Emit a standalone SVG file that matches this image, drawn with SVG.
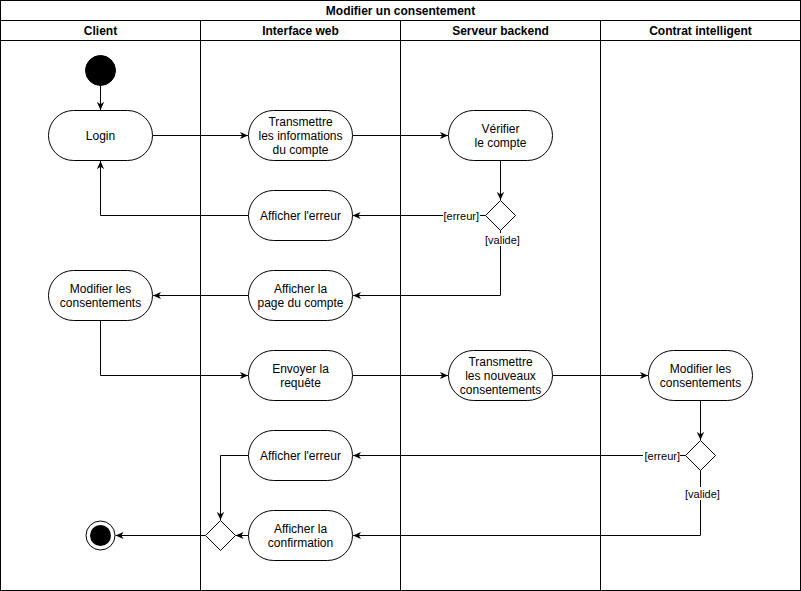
<svg xmlns="http://www.w3.org/2000/svg" width="801" height="591" viewBox="0 0 801 591">
  <style>
    .frame { fill: #ffffff; stroke: #000000; stroke-width: 1; }
    .act { fill: #ffffff; stroke: #000000; stroke-width: 1; }
    .dec { fill: #ffffff; stroke: #000000; stroke-width: 1; }
    .txt { font-family: "Liberation Sans", Arial, sans-serif; font-size: 12px; fill: #000000; text-anchor: middle; }
    .hdr { font-family: "Liberation Sans", Arial, sans-serif; font-size: 12px; font-weight: bold; fill: #000000; text-anchor: middle; }
    .lbl { font-family: "Liberation Sans", Arial, sans-serif; font-size: 11px; fill: #000000; }
    .edge { fill: none; stroke: #000000; stroke-width: 1; marker-end: url(#arrow); }
  </style>
  <defs>
    <marker id="arrow" viewBox="0 0 10 10" refX="9" refY="5" markerWidth="9" markerHeight="9" markerUnits="userSpaceOnUse" orient="auto">
      <path d="M0,1 L9,5 L0,9 L2.5,5 Z" fill="#000000" stroke="none"/>
    </marker>
  </defs>

  <!-- Pool and swimlanes -->
  <g id="pool">
    <rect class="frame" x="0.5" y="0.5" width="800" height="590"/>
    <line x1="0.5" y1="20.5" x2="800.5" y2="20.5" stroke="#000"/>
    <line x1="0.5" y1="40.5" x2="800.5" y2="40.5" stroke="#000"/>
    <line x1="200.5" y1="20.5" x2="200.5" y2="590.5" stroke="#000"/>
    <line x1="400.5" y1="20.5" x2="400.5" y2="590.5" stroke="#000"/>
    <line x1="600.5" y1="20.5" x2="600.5" y2="590.5" stroke="#000"/>
    <text class="hdr" x="400.5" y="15">Modifier un consentement</text>
    <text class="hdr" x="100.5" y="35">Client</text>
    <text class="hdr" x="300.5" y="35">Interface web</text>
    <text class="hdr" x="500.5" y="35">Serveur backend</text>
    <text class="hdr" x="700.5" y="35">Contrat intelligent</text>
  </g>

  <!-- Connectors -->
  <g id="connectors">
    <path class="edge" d="M100.5,85 L100.5,110"/>
    <path class="edge" d="M152.5,135.5 L248,135.5"/>
    <path class="edge" d="M352.5,135.5 L448,135.5"/>
    <path class="edge" d="M500.5,160.5 L500.5,200"/>
    <path class="edge" d="M485.5,215.5 L352.5,215.5"/>
    <path class="edge" d="M248.5,215.5 L100.5,215.5 L100.5,161"/>
    <path class="edge" d="M500.5,230.5 L500.5,295.5 L353,295.5"/>
    <path class="edge" d="M248.5,295.5 L153,295.5"/>
    <path class="edge" d="M100.5,320.5 L100.5,375.5 L248,375.5"/>
    <path class="edge" d="M352.5,375.5 L448,375.5"/>
    <path class="edge" d="M552.5,375.5 L648,375.5"/>
    <path class="edge" d="M700.5,400.5 L700.5,440"/>
    <path class="edge" d="M685.5,455.5 L353,455.5"/>
    <path class="edge" d="M700.5,470.5 L700.5,535.5 L353,535.5"/>
    <path class="edge" d="M248.5,455.5 L220.5,455.5 L220.5,520"/>
    <path class="edge" d="M248.5,535.5 L235.5,535.5"/>
    <path class="edge" d="M205.5,535.5 L115.5,535.5"/>
    <!-- guard labels -->
    <rect x="443" y="209" width="37" height="13" fill="#ffffff"/>
    <text class="lbl" x="479" y="219.5" text-anchor="end">[erreur]</text>
    <rect x="484" y="233" width="37" height="13" fill="#ffffff"/>
    <text class="lbl" x="502.5" y="243.5" text-anchor="middle">[valide]</text>
    <rect x="643" y="449" width="37" height="13" fill="#ffffff"/>
    <text class="lbl" x="680" y="459.5" text-anchor="end">[erreur]</text>
    <rect x="684" y="487" width="37" height="13" fill="#ffffff"/>
    <text class="lbl" x="702.5" y="497.5" text-anchor="middle">[valide]</text>
  </g>

  <!-- Nodes -->
  <g id="start">
    <circle cx="100.5" cy="70.5" r="15" fill="#000000" stroke="#000000"/>
  </g>

  <g id="login">
    <rect class="act" x="48.5" y="110.5" width="104" height="50" rx="25" ry="25"/>
    <text class="txt" x="100.5" y="139.5">Login</text>
  </g>

  <g id="transmettre-infos">
    <rect class="act" x="248.5" y="110.5" width="104" height="50" rx="25" ry="25"/>
    <text class="txt" x="300.5" y="125.5">Transmettre</text>
    <text class="txt" x="300.5" y="139.5">les informations</text>
    <text class="txt" x="300.5" y="153.5">du compte</text>
  </g>

  <g id="verifier">
    <rect class="act" x="448.5" y="110.5" width="104" height="50" rx="25" ry="25"/>
    <text class="txt" x="500.5" y="132.5">Vérifier</text>
    <text class="txt" x="500.5" y="146.5">le compte</text>
  </g>

  <g id="decision-compte">
    <path class="dec" d="M500.5,200.5 L515.5,215.5 L500.5,230.5 L485.5,215.5 Z"/>
  </g>

  <g id="afficher-erreur-1">
    <rect class="act" x="248.5" y="190.5" width="104" height="50" rx="25" ry="25"/>
    <text class="txt" x="300.5" y="219.5">Afficher l'erreur</text>
  </g>

  <g id="afficher-page">
    <rect class="act" x="248.5" y="270.5" width="104" height="50" rx="25" ry="25"/>
    <text class="txt" x="300.5" y="292.5">Afficher la</text>
    <text class="txt" x="300.5" y="306.5">page du compte</text>
  </g>

  <g id="modifier-client">
    <rect class="act" x="48.5" y="270.5" width="104" height="50" rx="25" ry="25"/>
    <text class="txt" x="100.5" y="292.5">Modifier les</text>
    <text class="txt" x="100.5" y="306.5">consentements</text>
  </g>

  <g id="envoyer-requete">
    <rect class="act" x="248.5" y="350.5" width="104" height="50" rx="25" ry="25"/>
    <text class="txt" x="300.5" y="372.5">Envoyer la</text>
    <text class="txt" x="300.5" y="386.5">requête</text>
  </g>

  <g id="transmettre-nouveaux">
    <rect class="act" x="448.5" y="350.5" width="104" height="50" rx="25" ry="25"/>
    <text class="txt" x="500.5" y="365.5">Transmettre</text>
    <text class="txt" x="500.5" y="379.5">les nouveaux</text>
    <text class="txt" x="500.5" y="393.5">consentements</text>
  </g>

  <g id="modifier-contrat">
    <rect class="act" x="648.5" y="350.5" width="104" height="50" rx="25" ry="25"/>
    <text class="txt" x="700.5" y="372.5">Modifier les</text>
    <text class="txt" x="700.5" y="386.5">consentements</text>
  </g>

  <g id="decision-contrat">
    <path class="dec" d="M700.5,440.5 L715.5,455.5 L700.5,470.5 L685.5,455.5 Z"/>
  </g>

  <g id="afficher-erreur-2">
    <rect class="act" x="248.5" y="430.5" width="104" height="50" rx="25" ry="25"/>
    <text class="txt" x="300.5" y="459.5">Afficher l'erreur</text>
  </g>

  <g id="afficher-confirmation">
    <rect class="act" x="248.5" y="510.5" width="104" height="50" rx="25" ry="25"/>
    <text class="txt" x="300.5" y="532.5">Afficher la</text>
    <text class="txt" x="300.5" y="546.5">confirmation</text>
  </g>

  <g id="merge">
    <path class="dec" d="M220.5,520.5 L235.5,535.5 L220.5,550.5 L205.5,535.5 Z"/>
  </g>

  <g id="end">
    <circle cx="100.5" cy="535.5" r="14.5" fill="#ffffff" stroke="#000000" stroke-width="1"/>
    <circle cx="100.5" cy="535.5" r="10.5" fill="#000000"/>
  </g>
</svg>
